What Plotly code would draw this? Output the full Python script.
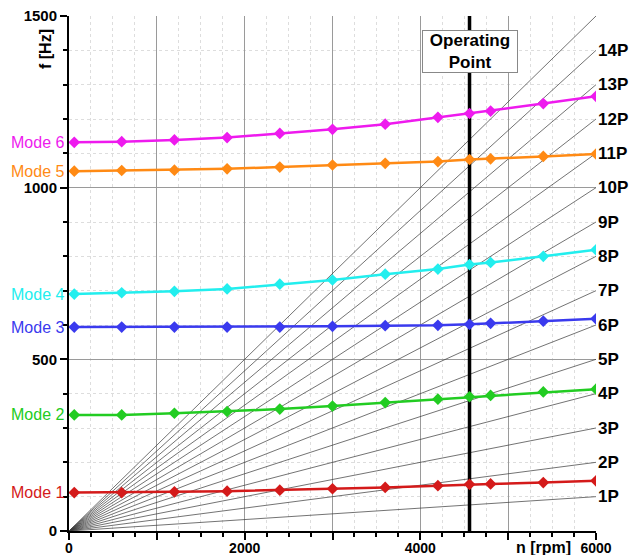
import plotly.graph_objects as go

# Rotational speed at which the modes were evaluated [rpm]
rpm = [60, 600, 1200, 1800, 2400, 3000, 3600, 4200, 4560, 4800, 5400, 6000]

mode_names = ["Mode 1", "Mode 2", "Mode 3", "Mode 4", "Mode 5", "Mode 6"]
mode1 = [112, 112, 114, 116, 119, 123, 127, 132, 136, 137, 141, 146]
mode2 = [338, 338, 343, 348, 355, 364, 374, 384, 391, 395, 405, 413]
mode3 = [594, 594, 594, 594, 594, 596, 598, 599, 602, 605, 611, 618]
mode4 = [690, 694, 698, 705, 719, 731, 748, 763, 776, 782, 800, 819]
mode5 = [1048, 1050, 1051, 1055, 1060, 1066, 1071, 1076, 1082, 1084, 1091, 1098]
mode6 = [1132, 1134, 1139, 1146, 1158, 1170, 1185, 1205, 1216, 1223, 1245, 1266]
mode_colors = ["#d41a1a", "#22cc22", "#3a3aee", "#22eeee", "#ff8a14", "#ee1aee"]

# Engine orders (kP lines), rpm range and labelled orders
orders = list(range(1, 16))
order_labels = [f"{k}P" for k in range(1, 15)]
rpm_range = [0, 6000]
operating_rpm = 4560

x_tickvals = [0, 1000, 2000, 3000, 4000, 5000, 6000]
x_ticktext = ["0", "", "2000", "", "4000", "", "6000"]
y_tickvals = [0, 500, 1000, 1500]

FONT = "Liberation Sans, Arial, sans-serif"

fig = go.Figure()

# order lines f = k * n / 60
for k in orders:
    fig.add_trace(go.Scatter(
        x=rpm_range, y=[k * v / 60 for v in rpm_range], mode="lines",
        line=dict(color="rgba(60,60,60,0.8)", width=0.9),
        hoverinfo="skip", showlegend=False))

# operating point line
fig.add_trace(go.Scatter(x=[operating_rpm, operating_rpm], y=[0, 1500], mode="lines",
                         line=dict(color="black", width=3.5), showlegend=False))

modes = [mode1, mode2, mode3, mode4, mode5, mode6]
for name, vals, col in zip(mode_names, modes, mode_colors):
    fig.add_trace(go.Scatter(
        x=rpm, y=vals, mode="lines+markers", name=name,
        line=dict(color=col, width=2.5),
        marker=dict(symbol="diamond", size=9, color=col),
        showlegend=False))
    fig.add_annotation(x=0, y=vals[0], xref="x", yref="y", text=name,
                       showarrow=False, xanchor="right", yanchor="middle",
                       xshift=-3, font=dict(family=FONT, size=16, color=col))

for k, lab in enumerate(order_labels, start=1):
    fig.add_annotation(x=1, xref="paper", y=k * rpm_range[1] / 60, yref="y", text=lab,
                       showarrow=False, xanchor="left", yanchor="middle", xshift=0,
                       font=dict(family=FONT, size=17, color="black", weight="bold"))

fig.add_annotation(x=operating_rpm, y=1398, xref="x", yref="y",
                   text="Operating<br>Point", showarrow=False,
                   xanchor="center", yanchor="middle", width=92, height=39,
                   bgcolor="white", bordercolor="#888", borderwidth=1, borderpad=1,
                   font=dict(family=FONT, size=17, color="black", weight="bold"))

fig.add_annotation(x=1, xref="paper", y=0, yref="paper", text="n [rpm]",
                   showarrow=False, xanchor="right", yanchor="middle", xshift=-23, yshift=-16,
                   font=dict(family=FONT, size=16, color="black", weight="bold"))
fig.add_annotation(x=0, xref="paper", y=1, yref="paper", text="f [Hz]", textangle=-90,
                   showarrow=False, xanchor="center", yanchor="top", xshift=-24, yshift=-11,
                   font=dict(family=FONT, size=16, color="black", weight="bold"))

fig.update_xaxes(range=rpm_range, tickvals=x_tickvals, ticktext=x_ticktext,
                 ticks="outside", ticklen=7, tickwidth=1.5, tickcolor="black",
                 ticklabelstandoff=-4, ticklabeloverflow="allow",
                 showline=True, linecolor="black", linewidth=2, automargin=False,
                 showgrid=True, gridcolor="#9a9a9a", gridwidth=1, zeroline=False,
                 tickfont=dict(family=FONT, size=14, color="black", weight="bold"),
                 minor=dict(dtick=250, ticks="outside", ticklen=4, tickcolor="black",
                            showgrid=True, gridcolor="#dddddd", griddash="dot"))
fig.update_yaxes(range=[0, 1500], tickvals=y_tickvals,
                 ticks="outside", ticklen=7, tickwidth=1.5, tickcolor="black",
                 ticklabeloverflow="allow",
                 showline=True, linecolor="black", linewidth=2, automargin=False,
                 showgrid=True, gridcolor="#9a9a9a", gridwidth=1, zeroline=False,
                 tickfont=dict(family=FONT, size=15, color="black", weight="bold"),
                 minor=dict(dtick=100, ticks="outside", ticklen=4, tickcolor="black",
                            showgrid=True, gridcolor="#dddddd", griddash="dot"))

fig.update_layout(width=633, height=547,
                  margin=dict(l=61, r=45, t=8, b=24),
                  paper_bgcolor="white", plot_bgcolor="white",
                  font=dict(family=FONT))

fig.write_html("out.html")
